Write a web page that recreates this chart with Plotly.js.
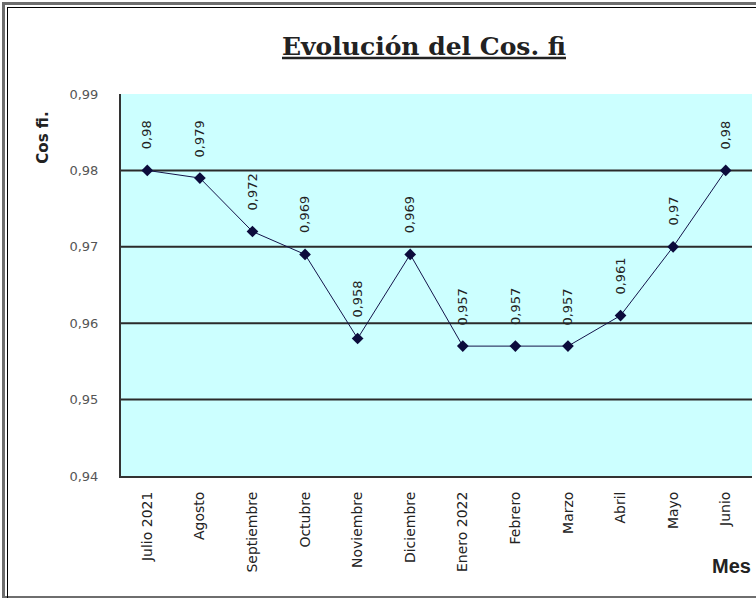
<!DOCTYPE html>
<html>
<head>
<meta charset="utf-8">
<script src="https://cdn.plot.ly/plotly-3.0.1.min.js"></script>
<style>
html,body{margin:0;padding:0;background:#fff;overflow:hidden;}
#chart{position:absolute;left:0;top:0;width:756px;height:598px;}
#f1{position:absolute;left:2px;top:2px;width:800px;height:591px;border-left:3px solid #6e6e6e;border-top:3px solid #6e6e6e;border-bottom:3px solid #6e6e6e;pointer-events:none;}
#f2{position:absolute;left:7px;top:7px;width:800px;height:600px;border-left:1px solid #000;border-top:1px solid #000;pointer-events:none;}
</style>
</head>
<body>
<div id="chart"></div>
<div id="f1"></div>
<div id="f2"></div>
<script>
var months = ["Julio 2021","Agosto","Septiembre","Octubre","Noviembre","Diciembre","Enero 2022","Febrero","Marzo","Abril","Mayo","Junio"];
var cosFi = [0.98,0.979,0.972,0.969,0.958,0.969,0.957,0.957,0.957,0.961,0.97,0.98];
var gridVals = [0.95,0.96,0.97,0.98];
var yTicks = [0.94,0.95,0.96,0.97,0.98,0.99];

var fmt = function(v){ return String(v).replace('.', ','); };
var FONT = 'DejaVu Sans, Arial, sans-serif';

var trace = {
  x: months.map(function(m,i){return i;}),
  y: cosFi,
  type: 'scatter',
  mode: 'lines+markers',
  line: {color: '#14144a', width: 1},
  marker: {symbol: 'diamond', size: 9, color: '#0c0c3c'},
  hoverinfo: 'skip'
};

var shapes = gridVals.map(function(g){
  return {type:'line', xref:'paper', yref:'y', x0:0, x1:1, y0:g, y1:g,
          line:{color:'#2b2b2b', width:2}, layer:'below'};
});

var annotations = cosFi.map(function(v,i){
  return {x:i, y:v, xref:'x', yref:'y', text:fmt(v), showarrow:false,
          textangle:-90, xanchor:'center', yanchor:'bottom', yshift:19,
          font:{family:FONT, size:13, color:'#222'}};
});
annotations.push({xref:'paper', yref:'paper', x:-0.124, y:0.885, text:'<b>Cos fi.</b>',
  showarrow:false, textangle:-90, xanchor:'center', yanchor:'middle',
  font:{family:FONT, size:15, color:'#222'}});
annotations.push({xref:'paper', yref:'paper', x:0.967, y:-0.236, text:'<b>Mes</b>',
  showarrow:false, xanchor:'center', yanchor:'middle',
  font:{family:'Arial, Liberation Sans, sans-serif', size:20, color:'#222'}});

var layout = {
  width: 756, height: 598,
  margin: {l:121, r:4, t:94, b:122, pad:0},
  paper_bgcolor: 'rgba(0,0,0,0)',
  plot_bgcolor: '#ccffff',
  separators: ',.',
  showlegend: false,
  title: {text:'<b><u>Evolución del Cos. fi</u></b>', xref:'container', yref:'container',
          x: 424/756, y: 1-46/598, xanchor:'center', yanchor:'middle',
          font:{family:'DejaVu Serif, serif', size:25, color:'#222'}},
  xaxis: {
    range:[-0.5, 11.5], tickmode:'array', tickvals: months.map(function(m,i){return i;}),
    ticktext: months, tickangle:-90, showgrid:false, zeroline:false,
    showline:true, linecolor:'#333', linewidth:2, ticks:'', ticklabelstandoff:8,
    tickfont:{family:FONT, size:14, color:'#222'}, fixedrange:true
  },
  yaxis: {
    range:[0.94, 0.99], tickmode:'array', tickvals: yTicks, ticktext: yTicks.map(function(v){return fmt(v.toFixed(2));}),
    showgrid:false, zeroline:false, showline:true, linecolor:'#333', linewidth:2,
    ticks:'', ticklabelstandoff:18,
    tickfont:{family:FONT, size:13, color:'#555'}, fixedrange:true
  },
  shapes: shapes,
  annotations: annotations
};

Plotly.newPlot('chart', [trace], layout, {staticPlot:true, displayModeBar:false});
</script>
</body>
</html>
